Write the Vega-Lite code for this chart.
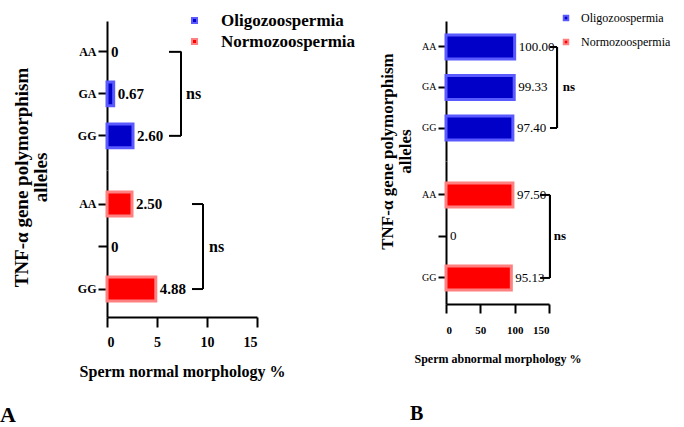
{
  "$schema": "https://vega.github.io/schema/vega-lite/v6.json",
  "padding": {"left": 0, "top": 12, "right": 0, "bottom": 0},
  "background": "white",
  "datasets": {
    "bars": [
      {"panel": "normal", "group": "Oligozoospermia", "allele": "AA", "value": 0, "label": "0"},
      {"panel": "normal", "group": "Oligozoospermia", "allele": "GA", "value": 0.67, "label": "0.67"},
      {"panel": "normal", "group": "Oligozoospermia", "allele": "GG", "value": 2.6, "label": "2.60"},
      {"panel": "normal", "group": "Normozoospermia", "allele": "AA", "value": 2.5, "label": "2.50"},
      {"panel": "normal", "group": "Normozoospermia", "allele": "GA", "value": 0, "label": "0"},
      {"panel": "normal", "group": "Normozoospermia", "allele": "GG", "value": 4.88, "label": "4.88"},
      {"panel": "abnormal", "group": "Oligozoospermia", "allele": "AA", "value": 100, "label": "100.00"},
      {"panel": "abnormal", "group": "Oligozoospermia", "allele": "GA", "value": 99.33, "label": "99.33"},
      {"panel": "abnormal", "group": "Oligozoospermia", "allele": "GG", "value": 97.4, "label": "97.40"},
      {"panel": "abnormal", "group": "Normozoospermia", "allele": "AA", "value": 97.5, "label": "97.50"},
      {"panel": "abnormal", "group": "Normozoospermia", "allele": "GA", "value": 0, "label": "0"},
      {"panel": "abnormal", "group": "Normozoospermia", "allele": "GG", "value": 95.13, "label": "95.13"}
    ]
  },
  "spacing": 21,
  "resolve": {"scale": {"color": "independent", "stroke": "independent", "x": "independent", "y": "independent"}},
  "hconcat": [
    {
      "title": {"text": "A", "orient": "bottom", "anchor": "start", "frame": "bounds", "font": "Liberation Serif", "fontWeight": "bold", "fontSize": 22, "offset": 26, "dx": -12},
      "spacing": 0,
      "bounds": "flush",
      "resolve": {"scale": {"color": "independent", "stroke": "independent", "x": "independent", "y": "independent"}},
      "vconcat": [
        {
          "width": 150, "height": 149,
          "data": {"name": "bars"},
          "transform": [{"filter": "datum.panel == 'normal' && datum.group == 'Oligozoospermia'"}],
          "encoding": {
            "x": {"field": "value", "type": "quantitative", "scale": {"domain": [0, 15]}, "axis": null},
            "y": {"field": "allele", "type": "nominal", "scale": {"domain": ["AA", "GA", "GG"], "paddingInner": 0.43, "paddingOuter": 0.489, "align": 0.46},
              "axis": {"title": ["TNF-α gene polymorphism", "alleles"], "titleFontSize": 19, "titleLineHeight": 19, "titleX": -76, "titleY": 156, "titleAngle": -90, "titleAlign": "center", "titleBaseline": "bottom", "labelFontSize": 12, "tickSize": 9, "labelPadding": 2}}
          },
          "layer": [
            {
              "transform": [{"filter": "datum.value > 0"}],
              "mark": {"type": "bar", "strokeWidth": 3},
              "encoding": {
                "color": {"field": "group", "type": "nominal", "scale": {"domain": ["Oligozoospermia", "Normozoospermia"], "range": ["#0000c8", "#ff0000"]},
                  "legend": {"orient": "none", "legendX": 79, "legendY": -9, "title": null, "symbolType": "square", "symbolSize": 25, "symbolStrokeWidth": 2, "labelFont": "Liberation Serif", "labelFontSize": 17, "labelFontWeight": "bold", "labelOffset": 18, "rowPadding": 3, "padding": 0}},
                "stroke": {"field": "group", "type": "nominal", "scale": {"domain": ["Oligozoospermia", "Normozoospermia"], "range": ["#5a5aff", "#ff8080"]},
                  "legend": {"orient": "none", "legendX": 79, "legendY": -9, "title": null, "symbolType": "square", "symbolSize": 25, "symbolStrokeWidth": 2, "labelFont": "Liberation Serif", "labelFontSize": 17, "labelFontWeight": "bold", "labelOffset": 18, "rowPadding": 3, "padding": 0}}
              }
            },
            {
              "mark": {"type": "text", "align": "left", "baseline": "middle", "dx": 4, "font": "Liberation Serif", "fontWeight": "bold", "fontSize": 15, "color": "black"},
              "encoding": {"text": {"field": "label"}}
            },
            {
              "mark": {"type": "rule", "strokeWidth": 2, "color": "black"},
              "encoding": {"x": {"datum": 7.4}, "y": {"datum": "AA"}, "y2": {"datum": "GG"}}
            },
            {
              "transform": [{"filter": "datum.allele != 'GA'"}],
              "mark": {"type": "rule", "strokeWidth": 2, "color": "black"},
              "encoding": {"x": {"datum": 6.2}, "x2": {"datum": 7.4}}
            },
            {
              "transform": [{"filter": "datum.allele == 'GA'"}],
              "mark": {"type": "text", "align": "left", "baseline": "middle", "font": "Liberation Serif", "fontWeight": "bold", "fontSize": 16, "color": "black"},
              "encoding": {"x": {"datum": 7.9}, "text": {"value": "ns"}}
            }
          ]
        },
        {
          "width": 150, "height": 147,
          "data": {"name": "bars"},
          "transform": [{"filter": "datum.panel == 'normal' && datum.group == 'Normozoospermia'"}],
          "encoding": {
            "x": {"field": "value", "type": "quantitative", "scale": {"domain": [0, 15]},
              "axis": {"values": [0, 5, 10, 15], "labelOverlap": false, "title": "Sperm normal morphology %", "titleFontSize": 16, "labelFontSize": 14, "tickSize": 10, "labelPadding": 8, "titlePadding": 14}},
            "y": {"field": "allele", "type": "nominal", "scale": {"domain": ["AA", "GA", "GG"], "paddingInner": 0.435, "paddingOuter": 0.447, "align": 0.58},
              "axis": {"title": null, "labelFontSize": 12, "tickSize": 9, "labelPadding": 2, "labelExpr": "datum.value == 'GA' ? '' : datum.value"}}
          },
          "layer": [
            {
              "transform": [{"filter": "datum.value > 0"}],
              "mark": {"type": "bar", "strokeWidth": 3},
              "encoding": {
                "color": {"field": "group", "type": "nominal", "scale": {"domain": ["Oligozoospermia", "Normozoospermia"], "range": ["#0000c8", "#ff0000"]}, "legend": null},
                "stroke": {"field": "group", "type": "nominal", "scale": {"domain": ["Oligozoospermia", "Normozoospermia"], "range": ["#5a5aff", "#ff8080"]}, "legend": null}
              }
            },
            {
              "mark": {"type": "text", "align": "left", "baseline": "middle", "dx": 4, "font": "Liberation Serif", "fontWeight": "bold", "fontSize": 15, "color": "black"},
              "encoding": {"text": {"field": "label"}}
            },
            {
              "mark": {"type": "rule", "strokeWidth": 2, "color": "black"},
              "encoding": {"x": {"datum": 9.6}, "y": {"datum": "AA"}, "y2": {"datum": "GG"}}
            },
            {
              "transform": [{"filter": "datum.allele != 'GA'"}],
              "mark": {"type": "rule", "strokeWidth": 2, "color": "black"},
              "encoding": {"x": {"datum": 8.5}, "x2": {"datum": 9.6}}
            },
            {
              "transform": [{"filter": "datum.allele == 'GA'"}],
              "mark": {"type": "text", "align": "left", "baseline": "middle", "font": "Liberation Serif", "fontWeight": "bold", "fontSize": 16, "color": "black"},
              "encoding": {"x": {"datum": 10.2}, "text": {"value": "ns"}}
            }
          ]
        }
      ]
    },
    {
      "title": {"text": "B", "orient": "bottom", "anchor": "start", "frame": "bounds", "font": "Liberation Serif", "fontWeight": "bold", "fontSize": 20, "offset": 40, "dx": 32},
      "spacing": 0,
      "bounds": "flush",
      "resolve": {"scale": {"color": "independent", "stroke": "independent", "x": "independent", "y": "independent"}},
      "vconcat": [
        {
          "width": 103, "height": 140,
          "data": {"name": "bars"},
          "transform": [{"filter": "datum.panel == 'abnormal' && datum.group == 'Oligozoospermia'"}],
          "encoding": {
            "x": {"field": "value", "type": "quantitative", "scale": {"domain": [0, 150]}, "axis": null},
            "y": {"field": "allele", "type": "nominal", "scale": {"domain": ["AA", "GA", "GG"], "paddingInner": 0.41, "paddingOuter": 0.433, "align": 0.4},
              "axis": {"title": ["TNF-α gene polymorphism", "alleles"], "titleFontSize": 17, "titleLineHeight": 18, "titleX": -50, "titleY": 130, "titleAngle": -90, "titleAlign": "center", "titleBaseline": "bottom", "labelFontSize": 10, "tickSize": 8, "labelPadding": 2, "labelFontWeight": "normal"}}
          },
          "layer": [
            {
              "transform": [{"filter": "datum.value > 0"}],
              "mark": {"type": "bar", "strokeWidth": 3},
              "encoding": {
                "color": {"field": "group", "type": "nominal", "scale": {"domain": ["Oligozoospermia", "Normozoospermia"], "range": ["#0000c8", "#ff0000"]},
                  "legend": {"orient": "none", "legendX": 114, "legendY": -9, "title": null, "symbolType": "square", "symbolSize": 20, "symbolStrokeWidth": 2, "labelFont": "Liberation Serif", "labelFontSize": 12, "labelFontWeight": "normal", "labelOffset": 9, "rowPadding": 10, "padding": 0}},
                "stroke": {"field": "group", "type": "nominal", "scale": {"domain": ["Oligozoospermia", "Normozoospermia"], "range": ["#5a5aff", "#ff8080"]},
                  "legend": {"orient": "none", "legendX": 114, "legendY": -9, "title": null, "symbolType": "square", "symbolSize": 20, "symbolStrokeWidth": 2, "labelFont": "Liberation Serif", "labelFontSize": 12, "labelFontWeight": "normal", "labelOffset": 9, "rowPadding": 10, "padding": 0}}
              }
            },
            {
              "mark": {"type": "text", "align": "left", "baseline": "middle", "dx": 4, "font": "Liberation Serif", "fontWeight": "normal", "fontSize": 13, "color": "black"},
              "encoding": {"text": {"field": "label"}}
            },
            {
              "mark": {"type": "rule", "strokeWidth": 2, "color": "black"},
              "encoding": {"x": {"datum": 161.7}, "y": {"datum": "AA"}, "y2": {"datum": "GG"}}
            },
            {
              "transform": [{"filter": "datum.allele != 'GA'"}],
              "mark": {"type": "rule", "strokeWidth": 2, "color": "black"},
              "encoding": {"x": {"datum": 151.4}, "x2": {"datum": 161.7}}
            },
            {
              "transform": [{"filter": "datum.allele == 'GA'"}],
              "mark": {"type": "text", "align": "left", "baseline": "middle", "font": "Liberation Serif", "fontWeight": "bold", "fontSize": 13, "color": "black"},
              "encoding": {"x": {"datum": 170}, "text": {"value": "ns"}}
            }
          ]
        },
        {
          "width": 103, "height": 143,
          "data": {"name": "bars"},
          "transform": [{"filter": "datum.panel == 'abnormal' && datum.group == 'Normozoospermia'"}],
          "encoding": {
            "x": {"field": "value", "type": "quantitative", "scale": {"domain": [0, 150]},
              "axis": {"values": [0, 50, 100, 150], "labelOverlap": false, "title": "Sperm abnormal morphology %", "titleFontSize": 12, "labelFontSize": 11, "tickSize": 9, "labelPadding": 11, "titlePadding": 18}},
            "y": {"field": "allele", "type": "nominal", "scale": {"domain": ["AA", "GA", "GG"], "paddingInner": 0.42, "paddingOuter": 0.433, "align": 0.61},
              "axis": {"title": null, "labelFontSize": 10, "tickSize": 8, "labelPadding": 2, "labelFontWeight": "normal", "labelExpr": "datum.value == 'GA' ? '' : datum.value"}}
          },
          "layer": [
            {
              "transform": [{"filter": "datum.value > 0"}],
              "mark": {"type": "bar", "strokeWidth": 3},
              "encoding": {
                "color": {"field": "group", "type": "nominal", "scale": {"domain": ["Oligozoospermia", "Normozoospermia"], "range": ["#0000c8", "#ff0000"]}, "legend": null},
                "stroke": {"field": "group", "type": "nominal", "scale": {"domain": ["Oligozoospermia", "Normozoospermia"], "range": ["#5a5aff", "#ff8080"]}, "legend": null}
              }
            },
            {
              "mark": {"type": "text", "align": "left", "baseline": "middle", "dx": 4, "font": "Liberation Serif", "fontWeight": "normal", "fontSize": 13, "color": "black"},
              "encoding": {"text": {"field": "label"}}
            },
            {
              "mark": {"type": "rule", "strokeWidth": 2, "color": "black"},
              "encoding": {"x": {"datum": 151.4}, "y": {"datum": "AA"}, "y2": {"datum": "GG"}}
            },
            {
              "transform": [{"filter": "datum.allele != 'GA'"}],
              "mark": {"type": "rule", "strokeWidth": 2, "color": "black"},
              "encoding": {"x": {"datum": 137}, "x2": {"datum": 151.4}}
            },
            {
              "transform": [{"filter": "datum.allele == 'GA'"}],
              "mark": {"type": "text", "align": "left", "baseline": "middle", "font": "Liberation Serif", "fontWeight": "bold", "fontSize": 13, "color": "black"},
              "encoding": {"x": {"datum": 157}, "text": {"value": "ns"}}
            }
          ]
        }
      ]
    }
  ],
  "config": {
    "view": {"stroke": null},
    "font": "Liberation Serif",
    "axis": {"domainColor": "black", "domainWidth": 2, "tickColor": "black", "tickWidth": 2, "labelFont": "Liberation Serif", "labelFontWeight": "bold", "labelColor": "black", "titleFont": "Liberation Serif", "titleFontWeight": "bold", "titleColor": "black", "grid": false},
    "legend": {"labelColor": "black"},
    "title": {"color": "black"}
  }
}
